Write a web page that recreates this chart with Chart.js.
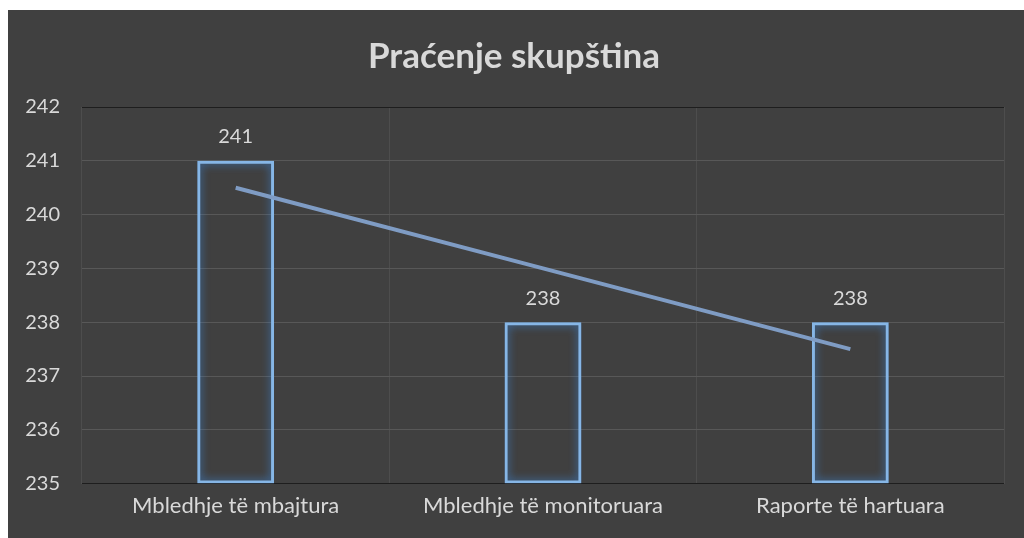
<!DOCTYPE html>
<html>
<head>
<meta charset="utf-8">
<script src="https://cdn.jsdelivr.net/npm/chart.js@4"></script>
<style>
    body { margin: 0; background: #ffffff; }
    #wrap { position: absolute; left: 8px; top: 10px; width: 1016px; height: 528px; background: #404040; }
</style>
</head>
<body>
<div id="wrap"><canvas id="chart"></canvas></div>
<script>
const categories = ['Mbledhje të mbajtura', 'Mbledhje të monitoruara', 'Raporte të hartuara']
const values = [241, 238, 238]
const trendValues = [240.5, 239, 237.5]
const yMin = 235
const yMax = 242

// glow around the bar outlines
const glowPlugin = {
    id: 'glow',
    beforeDatasetDraw(chart, args) {
        if (args.index !== 1) return
        chart.ctx.save()
        chart.ctx.shadowColor = 'rgba(60, 140, 230, 0.9)'
        chart.ctx.shadowBlur = 9
    },
    afterDatasetDraw(chart, args) {
        if (args.index !== 1) return
        chart.ctx.restore()
    }
}

const labelPlugin = {
    id: 'labels',
    afterDatasetsDraw(chart) {
        const ctx = chart.ctx
        const meta = chart.getDatasetMeta(1)
        ctx.save()
        ctx.font = '20px Lato, "Open Sans", sans-serif'
        ctx.fillStyle = '#d9d9d9'
        ctx.textAlign = 'center'
        ctx.textBaseline = 'middle'
        meta.data.forEach((bar, i) => {
            ctx.fillText(values[i], bar.x, bar.y - 24)
        })
        ctx.restore()
    }
}

const ctx = document.getElementById('chart')
new Chart(ctx, {
    type: 'bar',
    data: {
        labels: categories,
        datasets: [{
            type: 'line',
            data: trendValues,
            borderColor: '#7f9cc4',
            borderWidth: 4,
            pointRadius: 0,
            order: 0
        }, {
            type: 'bar',
            data: values.map((v) => [yMin, v]),
            backgroundColor: 'rgba(0,0,0,0)',
            borderColor: '#86b6e6',
            borderWidth: 3,
            borderSkipped: false,
            categoryPercentage: 1,
            barPercentage: 0.25,
            order: 1
        }]
    },
    plugins: [glowPlugin, labelPlugin],
    options: {
        responsive: true,
        maintainAspectRatio: false,
        animation: false,
        layout: { padding: { left: 16, right: 20, top: 0, bottom: 10 } },
        plugins: {
            legend: { display: false },
            tooltip: { enabled: false },
            title: {
                display: true,
                text: 'Praćenje skupština',
                color: '#d9d9d9',
                font: { family: 'Lato, "Open Sans", sans-serif', size: 35, weight: 'bold' },
                padding: { top: 26, bottom: 29 }
            }
        },
        scales: {
            x: {
                grid: { color: '#4d4d4d', lineWidth: 1, drawTicks: false },
                border: { display: false },
                ticks: {
                    color: '#d9d9d9',
                    font: { family: 'Lato, "Open Sans", sans-serif', size: 22 },
                    padding: 9
                }
            },
            y: {
                min: yMin,
                max: yMax,
                afterFit(scale) { scale.width = 58 },
                grid: {
                    color: (c) => (c.index === 0 || c.index === 7) ? '#1e1e1e' : '#585858',
                    drawTicks: false
                },
                border: { display: false },
                ticks: {
                    stepSize: 1,
                    color: '#d9d9d9',
                    align: 'center',
                    crossAlign: 'near',
                    font: { family: 'Lato, "Open Sans", sans-serif', size: 20 },
                    padding: 22
                }
            }
        }
    }
})
</script>
</body>
</html>
